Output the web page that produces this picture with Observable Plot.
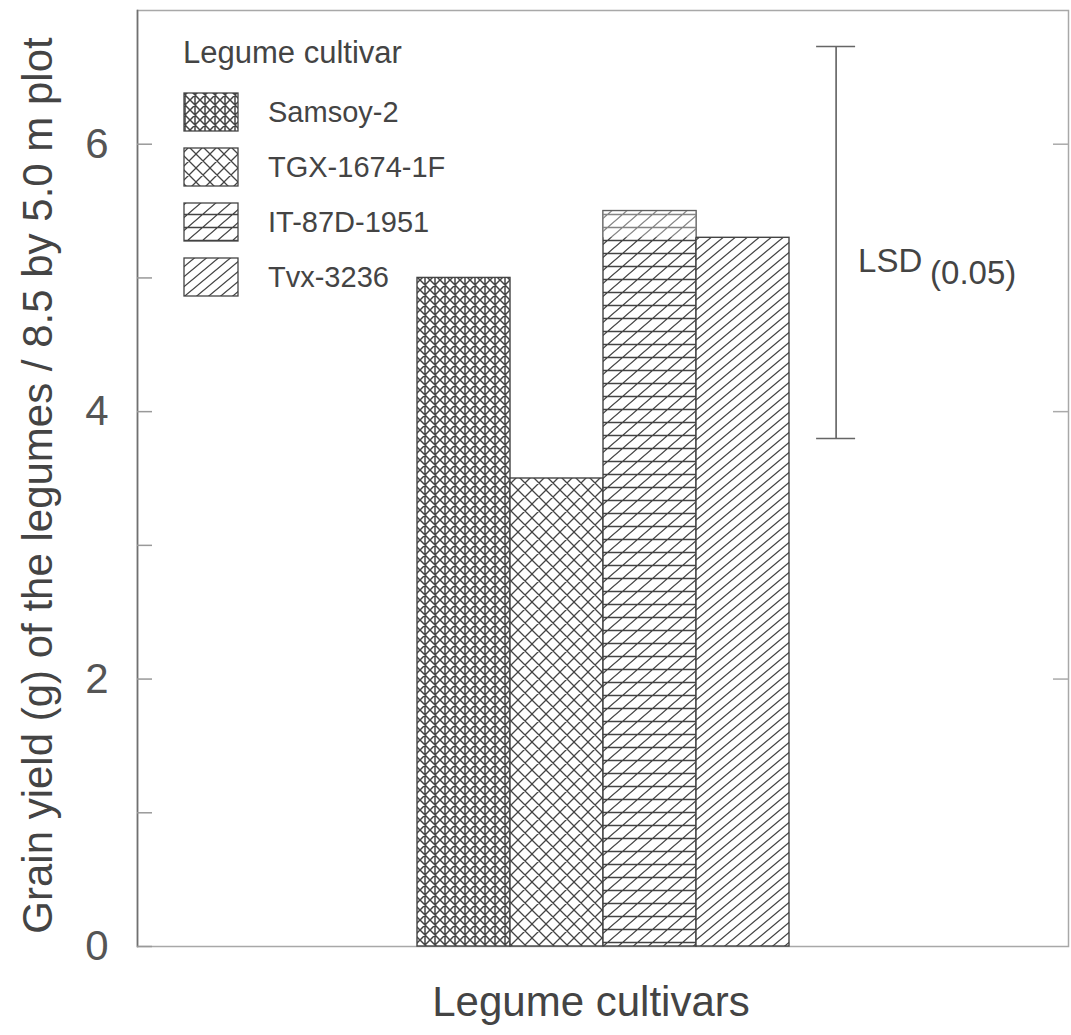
<!DOCTYPE html>
<html><head><meta charset="utf-8">
<script src="https://cdn.jsdelivr.net/npm/d3@7"></script>
<script src="https://cdn.jsdelivr.net/npm/@observablehq/plot@0.6"></script>
<style>
body{margin:0;background:#fff;}
#chart{position:relative;width:1071px;height:1035px;}
</style></head><body><div id="chart"></div>
<script>
// ---- data ----
const cultivars = ["Samsoy-2", "TGX-1674-1F", "IT-87D-1951", "Tvx-3236"];
const yields = [5.0, 3.5, 5.5, 5.3];
const lsdRange = [3.8, 6.73];
const lsdLabel = "LSD";
const lsdSub = "(0.05)";
const yTicks = [0, 2, 4, 6];
const yMinorTicks = [1, 3, 5];
const legendTitle = "Legume cultivar";
const xTitle = "Legume cultivars";
const yTitle = "Grain yield (g) of the legumes / 8.5 by 5.0 m plot";
const patternIds = ["pat-samsoy", "pat-tgx", "pat-it", "pat-tvx"];

const FONT = "'Liberation Sans', Arial, sans-serif";
const INK = "#444";
const W = 1071, H = 1035, ML = 137, MR = 3, MT = 10, MB = 89;
const step = (W - ML - MR) / 10;

const data = cultivars.map((c, i) => ({cultivar: c, yield: yields[i]}));
const itIdx = 2, tvxIdx = 3;
const ghost = [{cultivar: cultivars[itIdx], lo: yields[tvxIdx], hi: yields[itIdx]}];

const plot = Plot.plot({
  width: W, height: H,
  marginLeft: ML, marginRight: MR, marginTop: MT, marginBottom: MB,
  style: {fontFamily: FONT, color: INK, background: "white", overflow: "visible"},
  x: {type: "band", domain: cultivars, paddingInner: 0, paddingOuter: 3, axis: null},
  y: {domain: [0, 7], axis: null},
  color: {domain: cultivars, range: patternIds.map(id => `url(#${id})`)},
  marks: [
    Plot.frame({stroke: "#a8a8a8", strokeWidth: 1.5}),
    Plot.frame({anchor: "left", stroke: "#707070", strokeWidth: 1.6}),
    Plot.ruleY(yTicks.concat(yMinorTicks), {insetRight: (W - ML - MR) - 15, stroke: "#999", strokeWidth: 1.5}),
    Plot.ruleY(yTicks.filter(t => t > 0), {insetLeft: (W - ML - MR) - 15, stroke: "#aaa", strokeWidth: 1.5}),
    Plot.axisY({ticks: yTicks, tickSize: 0, tickPadding: 29, fontSize: 42, label: null,
      tickFormat: d3.format("d"), fill: "#555"}),
    Plot.barY(data, {x: "cultivar", y: "yield", fill: "cultivar", stroke: "#444", strokeWidth: 1.4}),
    Plot.rectY(ghost, {x: "cultivar", y1: "lo", y2: "hi", fill: "white", fillOpacity: 0.35}),
    Plot.ruleX([0], {x: () => cultivars[tvxIdx], y1: () => lsdRange[0], y2: () => lsdRange[1], dx: step, stroke: "#555", strokeWidth: 1.5}),
    Plot.tickY(lsdRange, {x: () => cultivars[tvxIdx], y: d => d, dx: step, insetLeft: 27, insetRight: 27, stroke: "#666", strokeWidth: 1.5}),
    Plot.text([lsdLabel], {text: d => d, x: () => cultivars[tvxIdx], y: () => (lsdRange[0] + lsdRange[1]) / 2,
      dx: step + 22, dy: 19, textAnchor: "start", lineAnchor: "middle", fontSize: 33, fill: INK}),
    Plot.text([lsdSub], {text: d => d, x: () => cultivars[tvxIdx], y: () => (lsdRange[0] + lsdRange[1]) / 2,
      dx: step + 94, dy: 31, textAnchor: "start", lineAnchor: "middle", fontSize: 33, fill: INK}),
    Plot.text([yTitle], {text: d => d, frameAnchor: "left", rotate: -90, dx: -99, dy: 7,
      fontSize: 42, textAnchor: "middle", lineAnchor: "middle", fill: INK}),
    Plot.text([xTitle], {text: d => d, frameAnchor: "bottom", dx: -12, dy: 56,
      fontSize: 42, textAnchor: "middle", lineAnchor: "middle", fill: INK})
  ]
});

const svg = d3.select(plot);
const defs = svg.insert("defs", ":first-child");
const STROKE = "#444";
function addPattern(id, w, h, d, sw) {
  const p = defs.append("pattern").attr("id", id).attr("patternUnits", "userSpaceOnUse")
    .attr("width", w).attr("height", h);
  p.append("rect").attr("width", w).attr("height", h).attr("fill", "white");
  p.append("path").attr("d", d).attr("stroke", STROKE).attr("stroke-width", sw).attr("fill", "none");
}
function diag(w, h) { // "/" lines
  let s = "";
  for (let k = -1; k <= 1; k++) s += `M${k * w - 0.3 * w},${1.3 * h}L${k * w + 1.3 * w},${-0.3 * h}`;
  return s;
}
function back(w, h) { // "\" lines
  let s = "";
  for (let k = -1; k <= 1; k++) s += `M${k * w - 0.3 * w},${-0.3 * h}L${k * w + 1.3 * w},${1.3 * h}`;
  return s;
}
addPattern("pat-samsoy", 10, 10, diag(10, 10) + back(10, 10) + "M5,0V10", 1.5);
addPattern("pat-tgx", 14, 14, diag(14, 14) + back(14, 14), 1.3);
addPattern("pat-it", 15, 13, diag(15, 13) + "M0,6.5H15", 1.3);
addPattern("pat-tvx", 12, 10, diag(12, 10), 1.3);

// legend
const lg = svg.append("g").attr("font-family", FONT).attr("fill", INK).attr("text-anchor", "start");
lg.append("text").attr("x", 183).attr("y", 63).attr("font-size", 31).text(legendTitle);
cultivars.forEach((c, i) => {
  const y0 = 93 + i * 55;
  lg.append("rect").attr("x", 184).attr("y", y0).attr("width", 54).attr("height", 38)
    .attr("fill", `url(#${patternIds[i]})`).attr("stroke", "#444").attr("stroke-width", 1.3);
  lg.append("text").attr("x", 268).attr("y", y0 + 19).attr("dy", "0.36em").attr("font-size", 29).text(c);
});

document.getElementById("chart").appendChild(plot);
</script></body></html>
